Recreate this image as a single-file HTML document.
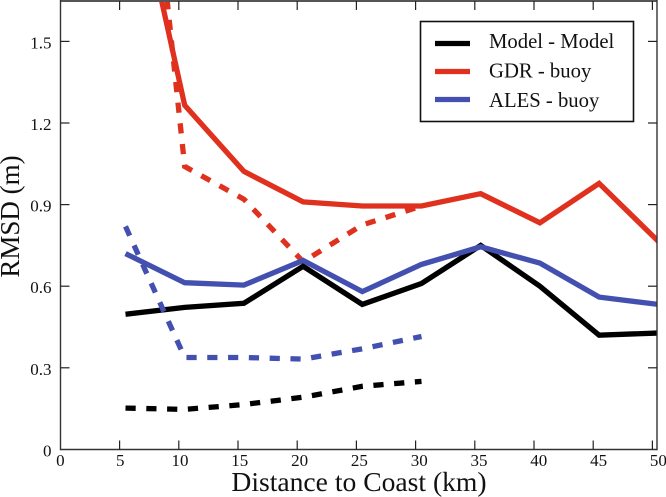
<!DOCTYPE html>
<html>
<head>
<meta charset="utf-8">
<title>RMSD vs Distance to Coast</title>
<style>
html,body{margin:0;padding:0;background:#fff;}
svg{display:block;font-family:"Liberation Serif",serif;}
</style>
</head>
<body>
<svg id="chart" width="666" height="497" viewBox="0 0 666 497" xmlns="http://www.w3.org/2000/svg">
<defs><clipPath id="plot-clip"><rect x="60.5" y="0" width="596.5" height="449.5"></rect></clipPath></defs>
<g id="marks" clip-path="url(#plot-clip)"></g>
<g id="axes"></g>
<text x="359" y="491" font-size="27.6" text-anchor="middle" fill="#111">Distance to Coast (km)</text>
<text transform="translate(19,216.5) rotate(-90)" font-size="27" text-anchor="middle" fill="#111">RMSD (m)</text>
<g>
<rect x="420.5" y="21.5" width="213" height="100" fill="#fff" stroke="#111" stroke-width="1.6"></rect>
<line x1="435" x2="470" y1="43.5" y2="43.5" stroke="#000" stroke-width="5.3"></line>
<text x="489" y="48" font-size="20.7" fill="#111">Model - Model</text>
<line x1="435" x2="470" y1="71.5" y2="71.5" stroke="#e0301e" stroke-width="5.3"></line>
<text x="489" y="77.5" font-size="20.7" fill="#111">GDR - buoy</text>
<line x1="435" x2="470" y1="99.5" y2="99.5" stroke="#4350b0" stroke-width="5.3"></line>
<text x="489" y="107" font-size="20.7" fill="#111">ALES - buoy</text>
</g>
</svg>
<script>
const xTicks = [0, 5, 10, 15, 20, 25, 30, 35, 40, 45, 50];
const yTicks = [0, 0.3, 0.6, 0.9, 1.2, 1.5];
const yTickLabels = ['0', '0.3', '0.6', '0.9', '1.2', '1.5'];
const distances = [5.5, 10.5, 15.5, 20.5, 25.5, 30.5, 35.5, 40.5, 45.5, 50.5];
const nearDistances = [5.5, 10.5, 15.5, 20.5, 25.5, 30.5];
const modelSolid = [0.497, 0.522, 0.537, 0.673, 0.533, 0.61, 0.75, 0.60, 0.42, 0.428];
const gdrSolid = [2.25, 1.265, 1.022, 0.91, 0.895, 0.895, 0.94, 0.833, 0.978, 0.765];
const alesSolid = [0.72, 0.613, 0.604, 0.695, 0.58, 0.68, 0.745, 0.685, 0.56, 0.533];
const modelDashed = [0.152, 0.147, 0.165, 0.192, 0.232, 0.25];
const gdrDashed = [3.1, 1.04, 0.92, 0.69, 0.825, 0.895];
const alesDashed = [0.82, 0.338, 0.338, 0.332, 0.37, 0.415];

const NS = 'http://www.w3.org/2000/svg';
const xScale = v => 60.4 + v * 11.84;
const xLabelScale = v => 60.4 + v * 11.96;
const yScale = v => 449.4 - v * 272;
const marks = document.getElementById('marks');
const axes = document.getElementById('axes');

function drawSeries(name, xs, ys, color, dashed) {
  const p = document.createElementNS(NS, 'polyline');
  
  
  p.setAttribute('points', xs.map((x, i) => xScale(x).toFixed(1) + ',' + yScale(ys[i]).toFixed(1)).join(' '));
  p.setAttribute('fill', 'none');
  p.setAttribute('stroke', color);
  p.setAttribute('stroke-width', '5.3');
  p.setAttribute('stroke-linejoin', 'miter');
  if (dashed) p.setAttribute('stroke-dasharray', '10.2 10.6');
  marks.appendChild(p);
}
drawSeries('gdr-buoy-dashed', nearDistances, gdrDashed, '#e0301e', true);
drawSeries('model-model-solid', distances, modelSolid, '#000', false);
drawSeries('ales-buoy-solid', distances, alesSolid, '#4350b0', false);
drawSeries('gdr-buoy-solid', distances, gdrSolid, '#e0301e', false);
drawSeries('ales-buoy-dashed', nearDistances, alesDashed, '#4350b0', true);
drawSeries('model-model-dashed', nearDistances, modelDashed, '#000', true);

function addLine(name, x1, y1, x2, y2, color, width) {
  const l = document.createElementNS(NS, 'line');
  
  
  l.setAttribute('x1', x1);
  l.setAttribute('y1', y1);
  l.setAttribute('x2', x2);
  l.setAttribute('y2', y2);
  l.setAttribute('stroke', color);
  l.setAttribute('stroke-width', width);
  axes.appendChild(l);
}
function addText(name, x, y, anchor, content) {
  const t = document.createElementNS(NS, 'text');
  
  
  t.setAttribute('x', x);
  t.setAttribute('y', y);
  t.setAttribute('text-anchor', anchor);
  t.setAttribute('font-size', '17');
  t.setAttribute('fill', '#111');
  t.textContent = content;
  axes.appendChild(t);
}
const left = 60.5, right = 657, top_ = 1, bottom = 449.5;
addLine('plot-top-border', left, top_, right, top_, '#555', 2);
addLine('plot-left-axis', left, 0, left, bottom + 0.7, '#333', 1.4);
addLine('plot-right-border', right, 0, right, bottom + 0.7, '#333', 1.4);
addLine('plot-bottom-axis', left, bottom, right, bottom, '#333', 1.4);
xTicks.forEach(v => {
  const x = xScale(v);
  if (v > 0) {
    addLine('x-tick-bottom', x, bottom, x, bottom - 9, '#222', 1.2);
    addLine('x-tick-top', x, top_, x, top_ + 9, '#222', 1.2);
  }
  addText('x-tick-label', xLabelScale(v), 466, 'middle', String(v));
});
yTicks.forEach((v, i) => {
  const y = yScale(v);
  if (v > 0) {
    addLine('y-tick-left', left, y, left + 9, y, '#222', 1.2);
    addLine('y-tick-right', right, y, right - 9, y, '#222', 1.2);
  }
  addText('y-tick-label', 51.5, y + 7, 'end', yTickLabels[i]);
});
</script>
</body>
</html>
